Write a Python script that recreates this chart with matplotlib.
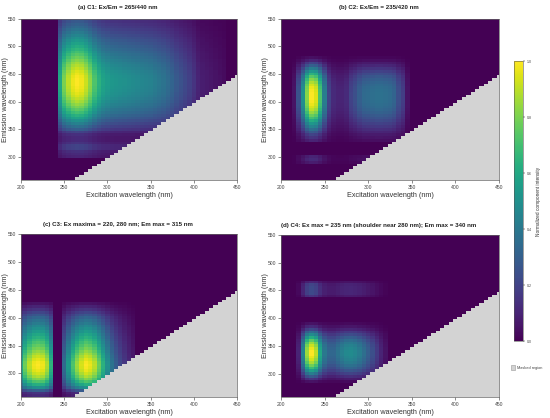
import numpy as np
import matplotlib
matplotlib.use("Agg")
import matplotlib.pyplot as plt
from matplotlib.patches import Patch

plt.rcParams['font.family'] = ['Liberation Sans', 'DejaVu Sans']

# wavelength grids (nm)
ex_nm = np.arange(200, 451, 5)
em_nm = np.arange(260, 551, 5)

# excitation / emission loadings (5 nm steps)
c1_ex = [0, 0, 0, 0, 0, 0, 0, 0, 0,
         0.6, 0.8, 0.9, 0.97, 1.0, 0.98, 0.92, 0.83, 0.72, 0.64, 0.58, 0.55,
         0.53, 0.52, 0.51, 0.5, 0.49, 0.48, 0.47, 0.46, 0.45, 0.44,
         0.42, 0.4, 0.38, 0.35, 0.32, 0.28, 0.25, 0.22, 0.19, 0.15,
         0.1, 0.08, 0.07, 0.06, 0.05, 0.04, 0.03, 0, 0, 0]
c1_em = [0, 0, 0, 0, 0, 0, 0,
         0, 0.1, 0.12, 0.14, 0.2, 0.2, 0.15, 0.12, 0.12, 0.14,
         0.2, 0.3, 0.37, 0.44, 0.51, 0.58, 0.64, 0.7, 0.75, 0.8,
         0.84, 0.88, 0.91, 0.94, 0.96, 0.98, 0.99, 1.0, 1.0, 1.0,
         0.99, 0.97, 0.95, 0.92, 0.89, 0.86, 0.82, 0.78, 0.74, 0.7,
         0.66, 0.62, 0.58, 0.54, 0.5, 0.46, 0.42, 0.38, 0.34, 0.31,
         0.28, 0.25]

c2_ex = [0, 0, 0,
         0.05, 0.25, 0.5, 0.82, 1.0, 0.95, 0.72, 0.42, 0.2, 0.12,
         0.1, 0.1, 0.12, 0.2, 0.24, 0.3, 0.34, 0.35, 0.36, 0.37,
         0.37, 0.36, 0.35, 0.32, 0.24, 0.18, 0.05, 0, 0, 0,
         0, 0, 0, 0, 0, 0, 0, 0, 0, 0, 0, 0, 0, 0, 0, 0, 0, 0]
c2_em = [0, 0, 0, 0, 0, 0,
         0.08, 0.12, 0.1, 0, 0, 0, 0, 0,
         0.1, 0.15, 0.2, 0.28, 0.36, 0.45, 0.53, 0.62, 0.7, 0.77,
         0.84, 0.9, 0.94, 0.97, 0.99, 1.0, 1.0, 1.0, 0.99, 0.97,
         0.93, 0.88, 0.82, 0.74, 0.64, 0.53, 0.42, 0.3, 0.2, 0.1,
         0.04, 0, 0, 0, 0, 0, 0, 0, 0, 0, 0, 0, 0, 0, 0]

c3_ex = [0.6, 0.78, 0.9, 0.98, 1.0, 0.98, 0.88, 0.65,
         0, 0,
         0.35, 0.55, 0.72, 0.85, 0.94, 1.0, 0.97, 0.9, 0.78, 0.64,
         0.5, 0.38, 0.29, 0.22, 0.16, 0.11, 0.07, 0, 0, 0,
         0, 0, 0, 0, 0, 0, 0, 0, 0, 0, 0, 0, 0, 0, 0, 0, 0, 0, 0, 0, 0]
c3_em = [0.12, 0.15, 0.3, 0.5, 0.63, 0.73, 0.81, 0.88, 0.93, 0.97,
         0.99, 1.0, 0.99, 0.96, 0.92, 0.88, 0.84, 0.8, 0.76, 0.72,
         0.68, 0.64, 0.6, 0.55, 0.51, 0.47, 0.42, 0.38, 0.33, 0.27,
         0.21, 0.15, 0.1, 0.05, 0, 0,
         0, 0, 0, 0, 0, 0, 0, 0, 0, 0, 0, 0, 0, 0, 0, 0, 0, 0, 0, 0, 0, 0, 0]

c4_ex = [0, 0, 0, 0,
         0.1, 0.45, 0.85, 1.0, 0.9, 0.6, 0.4, 0.33, 0.33, 0.38,
         0.43, 0.47, 0.48, 0.46, 0.42, 0.36, 0.3, 0.24, 0.17, 0.1,
         0.05, 0, 0, 0, 0, 0, 0, 0, 0, 0, 0, 0, 0, 0, 0, 0, 0, 0, 0, 0,
         0, 0, 0, 0, 0, 0, 0]
c4_em = [0, 0, 0, 0, 0,
         0.05, 0.15, 0.28, 0.42, 0.56, 0.68, 0.78, 0.87, 0.93, 0.97,
         1.0, 1.0, 0.97, 0.92, 0.85, 0.75, 0.62, 0.48, 0.35, 0.22,
         0.12, 0.05, 0, 0, 0, 0, 0, 0, 0, 0, 0,
         0.15, 0.22, 0.22, 0.22, 0.2, 0.1,
         0, 0, 0, 0, 0, 0, 0, 0, 0, 0, 0, 0, 0, 0, 0, 0, 0]

titles = ["(a) C1: Ex/Em = 265/440 nm",
          "(b) C2: Ex/Em = 235/420 nm",
          "(c) C3: Ex maxima = 220, 280 nm; Em max = 315 nm",
          "(d) C4: Ex max = 235 nm (shoulder near 280 nm); Em max = 340 nm"]
loadings = [(c1_ex, c1_em), (c2_ex, c2_em), (c3_ex, c3_em), (c4_ex, c4_em)]

cmap = plt.get_cmap('viridis').copy()
cmap.set_bad('#d3d3d3')

fig = plt.figure(figsize=(5.5, 4.18), dpi=100)
positions = [[0.038, 0.569, 0.393, 0.386],
             [0.511, 0.569, 0.396, 0.386],
             [0.038, 0.050, 0.393, 0.390],
             [0.511, 0.050, 0.396, 0.388]]

EX, EM = np.meshgrid(ex_nm, em_nm)
for i, (pos, title, (exl, eml)) in enumerate(zip(positions, titles, loadings)):
    ax = fig.add_axes(pos)
    z = np.outer(np.array(eml), np.array(exl))
    z = np.ma.masked_where(EM < EX, z)
    mesh = ax.pcolormesh(ex_nm, em_nm, z, cmap=cmap, vmin=0, vmax=1,
                         shading='nearest')
    ax.set_xlim(200, 450)
    ax.set_ylim(257.5, 550)
    ax.set_xticks(range(200, 451, 50))
    ax.set_yticks(range(300, 551, 50))
    ax.tick_params(labelsize=3.6, length=2, width=0.4, color='#333333',
                   labelcolor='#444444', pad=1.5)
    for s in ax.spines.values():
        s.set_color('#666666')
        s.set_linewidth(0.5)
    ax.set_xlabel("Excitation wavelength (nm)", fontsize=5.2, color='#333333',
                  labelpad=1.5)
    ax.set_ylabel("Emission wavelength (nm)", fontsize=5.2, color='#333333')
    ax.yaxis.set_label_coords(-0.056, 0.5)
    ax.set_title(title, fontsize=4.4, fontweight='bold', color='#222222',
                 x=0.449, pad=7 if i < 2 else 6)

cax = fig.add_axes([0.9345, 0.184, 0.0164, 0.670])
cb = fig.colorbar(mesh, cax=cax, ticks=[0, 0.2, 0.4, 0.6, 0.8, 1.0])
cb.ax.set_yticklabels(["0.0", "0.2", "0.4", "0.6", "0.8", "1.0"])
cb.ax.tick_params(labelsize=2.6, length=1.5, width=0.3, pad=1,
                  labelcolor='#444444')
cb.outline.set_linewidth(0.4)
cb.outline.set_edgecolor('#555555')
cb.set_label("Normalized component intensity", fontsize=3.4, color='#333333',
             labelpad=3)

fig.legend(handles=[Patch(facecolor='#d3d3d3', edgecolor='#999999',
                          linewidth=0.4, label='Masked region')],
           loc='center left', bbox_to_anchor=(0.922, 0.121), frameon=False,
           fontsize=2.8, handlelength=1.2, handleheight=1.6,
           handletextpad=0.5, labelcolor='#444444')

fig.savefig("out.png", dpi=100)
